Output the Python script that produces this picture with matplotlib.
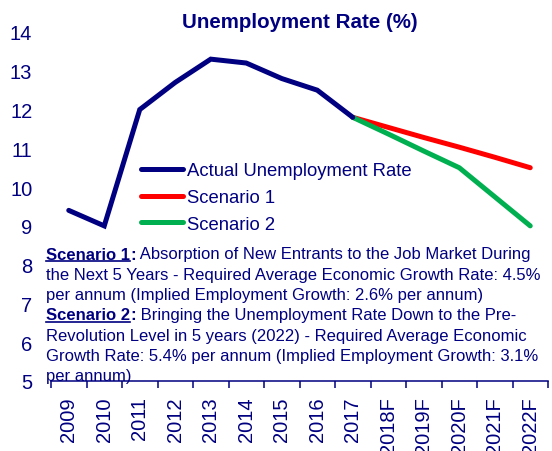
import matplotlib
matplotlib.use("Agg")
import matplotlib.pyplot as plt
from matplotlib.lines import Line2D

plt.rcParams['font.family'] = ['Liberation Sans', 'DejaVu Sans']

NAVY = '#000080'

years = ['2009', '2010', '2011', '2012', '2013', '2014', '2015', '2016', '2017',
         '2018F', '2019F', '2020F', '2021F', '2022F']
actual_years = years[:9]
actual_rate = [9.4, 9.0, 12.0, 12.7, 13.3, 13.2, 12.8, 12.5, 11.8]
scenario_years = years[8:]
scenario1_rate = [11.8, 11.54, 11.28, 11.03, 10.77, 10.5]
scenario2_rate = [11.8, 11.37, 10.93, 10.5, 9.75, 9.0]

note_lines = [
    ("Scenario 1", " Absorption of New Entrants to the Job Market During"),
    (None, "the Next 5 Years - Required Average Economic Growth Rate: 4.5%"),
    (None, "per annum (Implied Employment Growth: 2.6% per annum)"),
    ("Scenario 2", " Bringing the Unemployment Rate Down to the Pre-"),
    (None, "Revolution Level in 5 years (2022) - Required Average Economic"),
    (None, "Growth Rate: 5.4% per annum (Implied Employment Growth: 3.1%"),
    (None, "per annum)"),
]

W, H = 552, 452
fig = plt.figure(figsize=(W / 100, H / 100), dpi=100)
ax = fig.add_axes([51 / W, 70 / H, 497 / W, 349 / H])

pos = {y: i for i, y in enumerate(years)}
ax.plot([pos[y] for y in actual_years], actual_rate, color=NAVY, lw=3.6,
        solid_capstyle='round', solid_joinstyle='miter', label='Actual Unemployment Rate', zorder=3)
ax.plot([pos[y] for y in scenario_years], scenario1_rate, color='#FF0000', lw=3.6,
        solid_capstyle='round', label='Scenario 1', zorder=2)
ax.plot([pos[y] for y in scenario_years], scenario2_rate, color='#00B050', lw=3.6,
        solid_capstyle='round', label='Scenario 2', zorder=2)

ax.set_xlim(-0.5, len(years) - 0.5)
ax.set_ylim(5, 14)
ax.set_yticks(range(5, 15))
ax.set_xticks(range(len(years)))
ax.set_xticklabels(years, rotation=90)
ax.set_xticks([i - 0.5 for i in range(len(years) + 1)], minor=True)
ax.tick_params(axis='x', which='major', length=0, pad=11, labelsize=14.5, labelcolor=NAVY)
ax.tick_params(axis='x', which='minor', length=5, width=1.1, color=NAVY, direction='out')
ax.tick_params(axis='y', length=0, pad=13.5, labelsize=14.5, labelcolor=NAVY)
for s in ['left', 'top', 'right']:
    ax.spines[s].set_visible(False)
ax.spines['bottom'].set_color(NAVY)
ax.spines['bottom'].set_linewidth(1.1)

fig.text(300 / W, 1 - 23 / H, 'Unemployment Rate (%)', ha='center', va='center',
         fontsize=14.8, fontweight='bold', color=NAVY)

leg = ax.legend(loc='upper left', bbox_to_anchor=(141 / W, 1 - 163 / H),
                bbox_transform=fig.transFigure, frameon=False, fontsize=13.3,
                labelcolor=NAVY, handlelength=2.27, handletextpad=0.22,
                labelspacing=0.54, borderpad=0, borderaxespad=0)

# explanatory notes below the curves
fig.canvas.draw()
renderer = fig.canvas.get_renderer()
x0 = 46 / W
line_h = 20.3
first_y = 255
underlines = []
for k, (head, body) in enumerate(note_lines):
    y = 1 - (first_y + k * line_h) / H
    if head:
        t_head = fig.text(x0, y, head, ha='left', va='center', fontsize=12,
                          fontweight='bold', color=NAVY)
        t_colon = ax.annotate(':', xy=(1, 0), xycoords=t_head, ha='left', va='bottom',
                              fontsize=12, fontweight='bold', color=NAVY)
        ax.annotate(body, xy=(1, 0), xycoords=t_colon, ha='left', va='bottom',
                    fontsize=12, color=NAVY)
        underlines.append(t_head)
    else:
        fig.text(x0, y, body, ha='left', va='center', fontsize=12, color=NAVY)

fig.canvas.draw()
for t in underlines:
    bb = t.get_window_extent(renderer)
    yl = bb.y0 + 0.5
    fig.add_artist(Line2D([bb.x0 / W, bb.x1 / W], [yl / H, yl / H],
                          color=NAVY, lw=1.2, transform=fig.transFigure))

fig.savefig('out.png', dpi=100)
